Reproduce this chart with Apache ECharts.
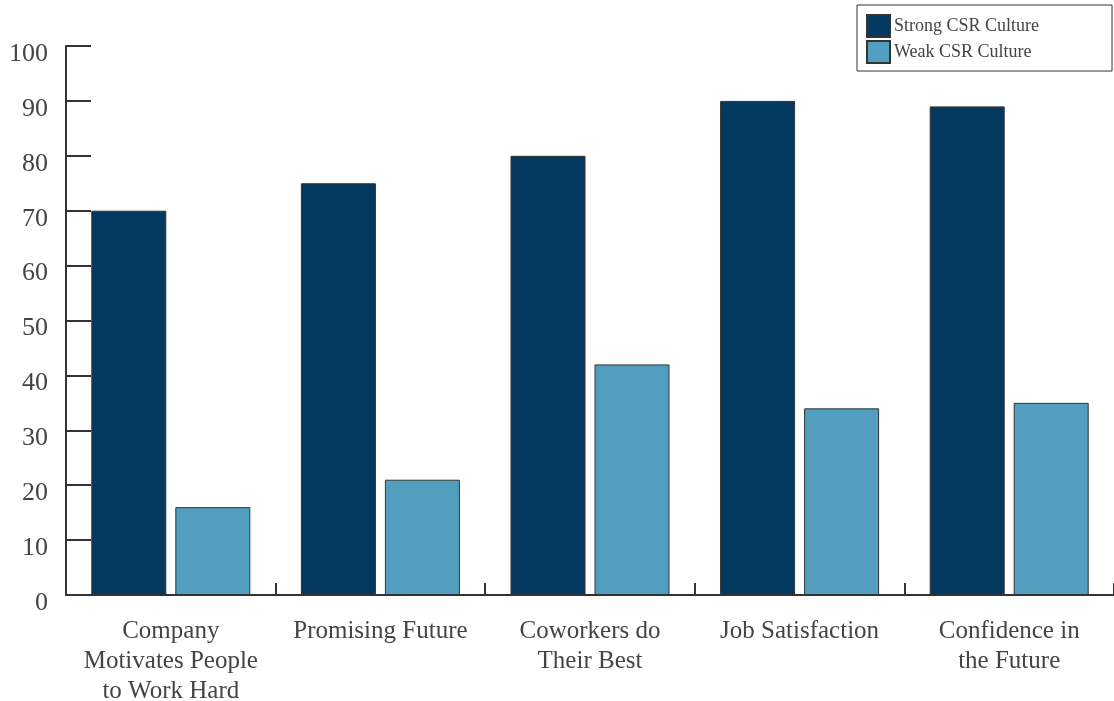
<!DOCTYPE html>
<html>
<head>
<meta charset="utf-8">
<script src="https://cdn.jsdelivr.net/npm/echarts@6/dist/echarts.min.js"></script>
<style>
  html, body { margin: 0; padding: 0; background: #ffffff; }
  #chart { width: 1114px; height: 701px; }
</style>
</head>
<body>
<div id="chart"></div>
<script>
// Survey outcomes by strength of CSR culture (percent)
const categories = [
  'Company\nMotivates People\nto Work Hard',
  'Promising Future',
  'Coworkers do\nTheir Best',
  'Job Satisfaction',
  'Confidence in\nthe Future'
];
const strongCSR = [70, 75, 80, 90, 89];
const weakCSR = [16, 21, 42, 34, 35];
const seriesNames = ['Strong CSR Culture', 'Weak CSR Culture'];

const FONT = '"Liberation Serif", "DejaVu Serif", serif';
const INK = '#333333';
const TEXT = '#444444';

const chart = echarts.init(document.getElementById('chart'), null, { renderer: 'canvas' });

chart.setOption({
  animation: false,
  backgroundColor: '#ffffff',
  grid: { left: 66, right: 0, top: 46, bottom: 106, containLabel: false, outerBoundsMode: 'none' },
  legend: {
    orient: 'vertical',
    left: 857,
    top: 5,
    itemWidth: 23,
    itemHeight: 22,
    itemGap: 2,
    padding: [9, 73, 7, 9],
    borderColor: INK,
    borderWidth: 1,
    icon: 'rect',
    textStyle: { fontFamily: FONT, fontSize: 18, lineHeight: 22, color: TEXT, padding: [0, 0, 0, -1] },
    data: seriesNames
  },
  xAxis: {
    type: 'category',
    data: categories,
    axisLine: { show: true, lineStyle: { color: INK, width: 2 } },
    axisTick: { show: true, inside: true, length: 12, lineStyle: { color: INK, width: 2 } },
    axisLabel: {
      fontFamily: FONT,
      fontSize: 25,
      color: TEXT,
      lineHeight: 30,
      margin: 21,
      interval: 0
    },
    splitLine: { show: false }
  },
  yAxis: {
    type: 'value',
    min: 0,
    max: 100,
    interval: 10,
    axisLine: { show: true, lineStyle: { color: INK, width: 2 } },
    axisTick: { show: true, inside: true, length: 25, lineStyle: { color: INK, width: 2 } },
    axisLabel: {
      fontFamily: FONT,
      fontSize: 26,
      color: TEXT,
      margin: 18,
      verticalAlign: 'top',
      lineHeight: 16
    },
    splitLine: { show: false }
  },
  series: [
    {
      name: seriesNames[0],
      type: 'bar',
      data: strongCSR,
      barWidth: 75,
      barGap: '12%',
      itemStyle: { color: '#03385f', borderColor: INK, borderWidth: 1 }
    },
    {
      name: seriesNames[1],
      type: 'bar',
      data: weakCSR,
      barWidth: 75,
      itemStyle: { color: '#529ebf', borderColor: INK, borderWidth: 1 }
    }
  ]
});
</script>
</body>
</html>
